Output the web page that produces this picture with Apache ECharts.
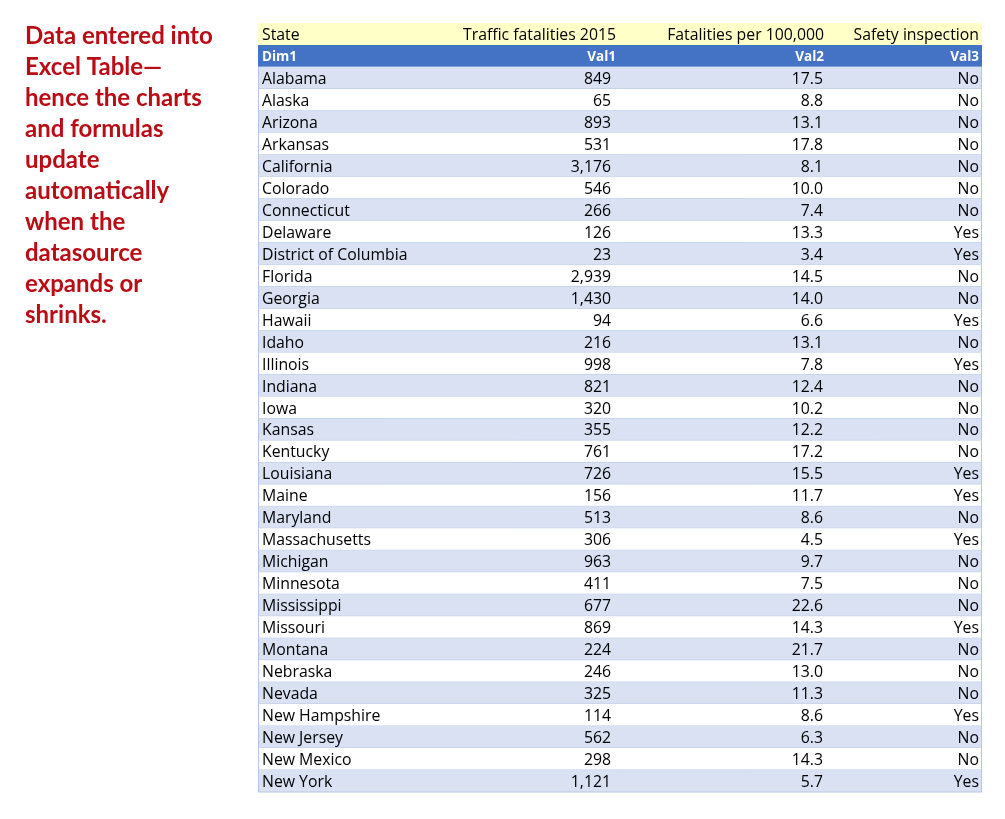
<!DOCTYPE html>
<html style="height:100%;">
<head>
    <meta charset="utf-8">
    <title>Traffic fatalities 2015</title>
    <script src="https://cdn.jsdelivr.net/npm/echarts@6/dist/echarts.min.js"></script>
</head>
<body style="height: 100%; margin: 0; background: #fff;">
    <div id="main" style="width: 1005px; height: 819px;"></div>
    <script type="text/javascript">
    // table data, read from the sheet
    var headers = ['State', 'Traffic fatalities 2015', 'Fatalities per 100,000', 'Safety inspection'];
    var dimNames = ['Dim1', 'Val1', 'Val2', 'Val3'];
    var states = ['Alabama', 'Alaska', 'Arizona', 'Arkansas', 'California', 'Colorado', 'Connecticut',
        'Delaware', 'District of Columbia', 'Florida', 'Georgia', 'Hawaii', 'Idaho', 'Illinois',
        'Indiana', 'Iowa', 'Kansas', 'Kentucky', 'Louisiana', 'Maine', 'Maryland', 'Massachusetts',
        'Michigan', 'Minnesota', 'Mississippi', 'Missouri', 'Montana', 'Nebraska', 'Nevada',
        'New Hampshire', 'New Jersey', 'New Mexico', 'New York'];
    var fatalities = [849, 65, 893, 531, 3176, 546, 266, 126, 23, 2939, 1430, 94, 216, 998, 821, 320,
        355, 761, 726, 156, 513, 306, 963, 411, 677, 869, 224, 246, 325, 114, 562, 298, 1121];
    var perHundredK = [17.5, 8.8, 13.1, 17.8, 8.1, 10.0, 7.4, 13.3, 3.4, 14.5, 14.0, 6.6, 13.1, 7.8,
        12.4, 10.2, 12.2, 17.2, 15.5, 11.7, 8.6, 4.5, 9.7, 7.5, 22.6, 14.3, 21.7, 13.0, 11.3, 8.6,
        6.3, 14.3, 5.7];
    var inspection = ['No', 'No', 'No', 'No', 'No', 'No', 'No', 'Yes', 'Yes', 'No', 'No', 'Yes', 'No',
        'Yes', 'No', 'No', 'No', 'No', 'Yes', 'Yes', 'No', 'Yes', 'No', 'No', 'No', 'Yes', 'No', 'No',
        'No', 'Yes', 'No', 'No', 'Yes'];
    var note = ['Data entered into', 'Excel Table\u2014', 'hence the charts', 'and formulas', 'update',
        'automatically', 'when the', 'datasource', 'expands or', 'shrinks.'];

    var rowKeys = ['header', 'dims'].concat(states);
    var tableFont = '"Open Sans", sans-serif';

    // right edges of the text columns, in table units (x axis 0..724)
    var colRight = [null, 358, 566, 721];
    var numRight = [null, 353, 565, 721];

    function cellText(row, col) {
        if (row === 0) return headers[col];
        if (row === 1) return dimNames[col];
        var i = row - 2;
        if (col === 0) return states[i];
        if (col === 1) return fatalities[i].toLocaleString('en-US');
        if (col === 2) return perHundredK[i].toFixed(1);
        return inspection[i];
    }

    function renderRow(params, api) {
        var row = api.value(1);
        var cs = params.coordSys;
        var yc = api.coord([0, row])[1];
        var h = api.size([0, 1])[1];
        var top = yc - h / 2;
        var fill;
        if (row === 0) fill = '#FFFFC8';
        else if (row === 1) fill = '#4472C4';
        else fill = (row % 2 === 0) ? '#D9E1F2' : '#FFFFFF';
        var isDim = row === 1;
        var children = [{
            type: 'rect',
            shape: { x: cs.x, y: top, width: cs.width, height: h },
            style: { fill: fill }
        }];
        if (row >= 1) {
            children.push({
                type: 'line',
                shape: { x1: cs.x, y1: top + h, x2: cs.x + cs.width, y2: top + h },
                style: { stroke: '#B4C6E7', lineWidth: 1 }
            });
        }
        if (row >= 2) {
            children.push({
                type: 'line',
                shape: { x1: cs.x + 0.5, y1: top, x2: cs.x + 0.5, y2: top + h },
                style: { stroke: '#B4C6E7', lineWidth: 1 }
            }, {
                type: 'line',
                shape: { x1: cs.x + cs.width - 0.5, y1: top, x2: cs.x + cs.width - 0.5, y2: top + h },
                style: { stroke: '#B4C6E7', lineWidth: 1 }
            });
        }
        for (var c = 0; c < 4; c++) {
            var x, align;
            if (c === 0) {
                x = cs.x + 4;
                align = 'left';
            } else {
                x = api.coord([row >= 2 ? numRight[c] : colRight[c], row])[0];
                align = 'right';
            }
            children.push({
                type: 'text',
                style: {
                    x: x,
                    y: yc + 1.5,
                    text: cellText(row, c),
                    align: align,
                    verticalAlign: 'middle',
                    fill: isDim ? '#FFFFFF' : '#000000',
                    font: (isDim ? 'bold 13.5px ' : '15.8px ') + tableFont
                }
            });
        }
        return { type: 'group', children: children };
    }

    var myChart = echarts.init(document.getElementById('main'));
    myChart.setOption({
        animation: false,
        title: {
            text: note.join('\n'),
            left: 25,
            top: 21,
            padding: 0,
            textStyle: {
                color: '#BA0C14',
                fontFamily: 'Lato',
                fontWeight: 'bold',
                fontSize: 24,
                lineHeight: 31
            }
        },
        grid: { left: 258, right: 23, top: 23, bottom: 27 },
        xAxis: { type: 'value', min: 0, max: 724, show: false },
        yAxis: { type: 'category', data: rowKeys, inverse: true, show: false },
        series: [{
            type: 'custom',
            renderItem: renderRow,
            data: rowKeys.map(function (k, i) { return [0, i]; })
        }]
    });
</script>
</body>
</html>
